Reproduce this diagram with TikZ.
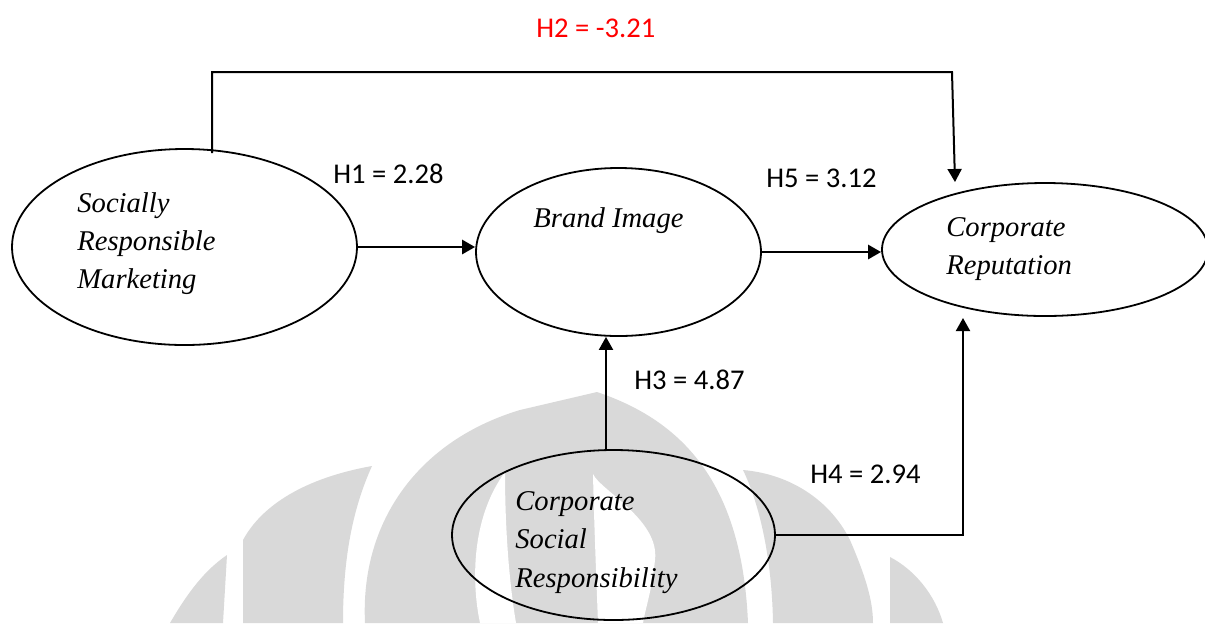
\documentclass[tikz,border=0pt]{standalone}
\usepackage{fontspec}
\setmainfont{Liberation Serif}
\newfontfamily\labelfont{Carlito}
\usetikzlibrary{arrows.meta,shapes.geometric}
\definecolor{wm}{RGB}{217,217,217}
\begin{document}
\begin{tikzpicture}[x=0.5pt,y=-0.5pt,
  construct/.style={draw,ellipse,inner sep=0pt,line width=0.9pt},
  ctext/.style={anchor=base west,inner sep=0pt,font=\fontsize{14.3}{17}\selectfont\itshape},
  hlabel/.style={anchor=base west,inner sep=0pt,font=\labelfont\fontsize{14.3}{17}\selectfont},
  link/.style={line width=1pt,-{Triangle[length=6.5pt,width=7pt]}},
  boldlink/.style={line width=1.4pt,-{Triangle[length=6.5pt,width=7pt]}},
  mark wm/.style={fill=wm,draw=none}]
\useasboundingbox (0,0) rectangle (1205,623);
\clip (0,0) rectangle (1205,623);

% faint logo in the background
\fill[wm] (170,623) .. controls (188,592) and (205,570) .. (227,555) -- (223,623) -- cycle;
\fill[wm] (243,623) -- (243,540) .. controls (262,505) and (305,478) .. (372,466)
  .. controls (352,510) and (343,560) .. (343,623) -- cycle;
\fill[wm] (365,623) .. controls (360,520) and (420,440) .. (520,410) -- (597,392)
  .. controls (680,420) and (742,480) .. (748,623) -- cycle;
\fill[white] (505,472) .. controls (470,520) and (472,585) .. (480,623) -- (516,623)
  .. controls (508,575) and (505,520) .. (505,472) -- cycle;
\fill[white] (593,474) .. controls (600,490) and (660,520) .. (655,560)
  .. controls (652,590) and (645,610) .. (643,623) -- (598,623)
  .. controls (596,570) and (594,520) .. (593,474) -- cycle;
\fill[wm] (743,470) .. controls (790,474) and (830,500) .. (850,540)
  .. controls (865,575) and (873,600) .. (873,623) -- (773,623)
  .. controls (772,560) and (760,505) .. (743,470) -- cycle;
\fill[wm] (890,557) .. controls (915,570) and (935,595) .. (943,623) -- (890,623) -- cycle;

% constructs
\node[construct,minimum width=172.5pt,minimum height=98pt] (srm) at (184.5,247) {};
\node[construct,minimum width=142.5pt,minimum height=84pt] (bi) at (618.5,252) {};
\node[construct,minimum width=163pt,minimum height=66.5pt] (cr) at (1045,249.5) {};
\node[construct,minimum width=161.5pt,minimum height=85pt] (csr) at (613.5,535) {};

% construct names
\node[ctext] (srm1) at (77,212) {Socially};
\node[ctext] (srm2) at (77,250) {Responsible};
\node[ctext] (srm3) at (77,288) {Marketing};
\node[ctext] (bit) at (533,227) {Brand Image};
\node[ctext] (cr1) at (946,236) {Corporate};
\node[ctext] (cr2) at (946,274) {Reputation};
\node[ctext] (csr1) at (515,510) {Corporate};
\node[ctext] (csr2) at (515,548) {Social};
\node[ctext] (csr3) at (515,587) {Responsibility};

% path coefficients
\node[hlabel,text=red] (h2) at (536,37) {H2 = -3.21};
\node[hlabel] (h1) at (333,183) {H1 = 2.28};
\node[hlabel] (h5) at (766,187) {H5 = 3.12};
\node[hlabel] (h3) at (634,389) {H3 = 4.87};
\node[hlabel] (h4) at (810,483) {H4 = 2.94};

% helper points for the routed paths
\coordinate (h2s) at (212,153);
\coordinate (h2a) at (212,72);
\coordinate (h2b) at (952,72);
\coordinate (h2e) at (955,182);
\coordinate (h3x) at (606,0);
\coordinate (h4e) at (963,318);

% paths
\draw[boldlink] (srm.east) -- (srm.east -| bi.west);
\draw[boldlink] (bi.east) -- (bi.east -| cr.west);
\draw[link] (h2s) -- (h2a) -- (h2b) -- (h2e);
\draw[link] (h3x |- csr.north) -- (h3x |- bi.south);
\draw[link] (csr.east) -| (h4e);
\end{tikzpicture}
\end{document}
